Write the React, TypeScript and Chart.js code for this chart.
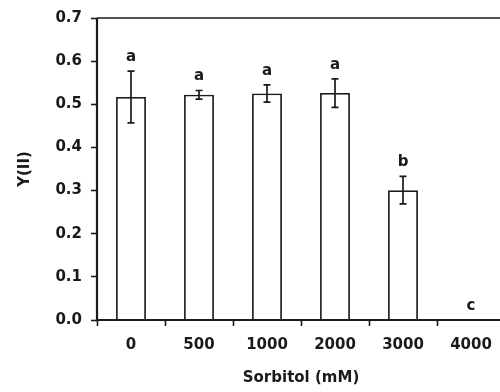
import React, { useEffect, useRef } from "react";
import { Chart, registerables } from "chart.js";

Chart.register(...registerables);

const categories = ["0", "500", "1000", "2000", "3000", "4000"];
const values = [0.517, 0.522, 0.525, 0.526, 0.301, 0];
const errors = [0.06, 0.01, 0.02, 0.033, 0.032, 0];
const letters = ["a", "a", "a", "a", "b", "c"];
const yTicks = [0, 0.1, 0.2, 0.3, 0.4, 0.5, 0.6, 0.7];

const INK = "#1a1a1a";
const FONT = "'DejaVu Sans', sans-serif";

const overlay = {
  id: "overlay",
  afterDatasetsDraw(chart: any) {
    const ctx = chart.ctx;
    const { left, right, top, bottom } = chart.chartArea;
    const ys = chart.scales.y;
    const meta = chart.getDatasetMeta(0);
    ctx.save();
    ctx.strokeStyle = INK;
    ctx.lineCap = "butt";
    // frame
    ctx.lineWidth = 2.2;
    ctx.beginPath();
    ctx.moveTo(left, top);
    ctx.lineTo(left, bottom);
    ctx.lineTo(right, bottom);
    ctx.stroke();
    ctx.lineWidth = 1.6;
    ctx.beginPath();
    ctx.moveTo(left, top);
    ctx.lineTo(right, top);
    ctx.lineTo(right, bottom);
    ctx.stroke();
    // error bars + letters
    ctx.lineWidth = 1.7;
    ctx.fillStyle = INK;
    ctx.font = `bold 15px ${FONT}`;
    ctx.textAlign = "center";
    ctx.textBaseline = "middle";
    meta.data.forEach((bar: any, i: number) => {
      const v = values[i];
      const e = errors[i];
      const x = bar.x;
      const yt = ys.getPixelForValue(v + e);
      if (e > 0) {
        const yb = ys.getPixelForValue(v - e);
        ctx.beginPath();
        ctx.moveTo(x, yt);
        ctx.lineTo(x, yb);
        ctx.moveTo(x - 3.5, yt);
        ctx.lineTo(x + 3.5, yt);
        ctx.moveTo(x - 3.5, yb);
        ctx.lineTo(x + 3.5, yb);
        ctx.stroke();
      }
      ctx.fillText(letters[i], x, yt - 14);
    });
    ctx.restore();
  },
};

export default function App() {
  const ref = useRef<HTMLCanvasElement>(null);
  useEffect(() => {
    if (!ref.current) return;
    const chart = new Chart(ref.current, {
      type: "bar",
      data: {
        labels: categories,
        datasets: [
          {
            data: values,
            backgroundColor: "#ffffff",
            borderColor: INK,
            borderWidth: 1.8,
            barPercentage: 0.44,
            categoryPercentage: 1,
          },
        ],
      },
      options: {
        responsive: false,
        animation: false,
        events: [],
        layout: { padding: { left: 0, top: 18, right: 5, bottom: 0 } },
        plugins: {
          legend: { display: false },
          tooltip: { enabled: false },
        },
        scales: {
          x: {
            border: { display: false },
            grid: {
              display: true,
              offset: true,
              drawOnChartArea: false,
              drawTicks: true,
              tickLength: 6,
              tickWidth: 1.6,
              tickColor: INK,
            },
            ticks: {
              color: INK,
              font: { family: FONT, weight: "bold", size: 15 },
              padding: 10,
              maxRotation: 0,
            },
            title: {
              display: true,
              text: "Sorbitol (mM)",
              color: INK,
              font: { family: FONT, weight: "bold", size: 15 },
              padding: { top: 0, bottom: 5 },
            },
            afterFit: (s: any) => {
              s.height = 72;
            },
          },
          y: {
            min: 0,
            max: 0.7,
            border: { display: false },
            grid: {
              display: true,
              drawOnChartArea: false,
              drawTicks: true,
              tickLength: 6,
              tickWidth: 1.6,
              tickColor: INK,
            },
            afterBuildTicks: (s: any) => {
              s.ticks = yTicks.map((v) => ({ value: v }));
            },
            ticks: {
              color: INK,
              font: { family: FONT, weight: "bold", size: 15 },
              padding: 9,
              callback: (v: any) => Number(v).toFixed(1),
            },
            title: {
              display: true,
              text: "Y(II)",
              color: INK,
              font: { family: FONT, weight: "bold", size: 15 },
              padding: { top: 16, bottom: 0 },
            },
            afterFit: (s: any) => {
              s.width = 97;
            },
          },
        },
      },
      plugins: [overlay],
    });
    return () => chart.destroy();
  }, []);
  return (
    <div
      style={{
        position: "fixed",
        left: 0,
        top: 0,
        width: 500,
        height: 392,
        overflow: "hidden",
        background: "#fff",
      }}
    >
      <canvas ref={ref} width={510} height={392} style={{ display: "block" }} />
    </div>
  );
}
